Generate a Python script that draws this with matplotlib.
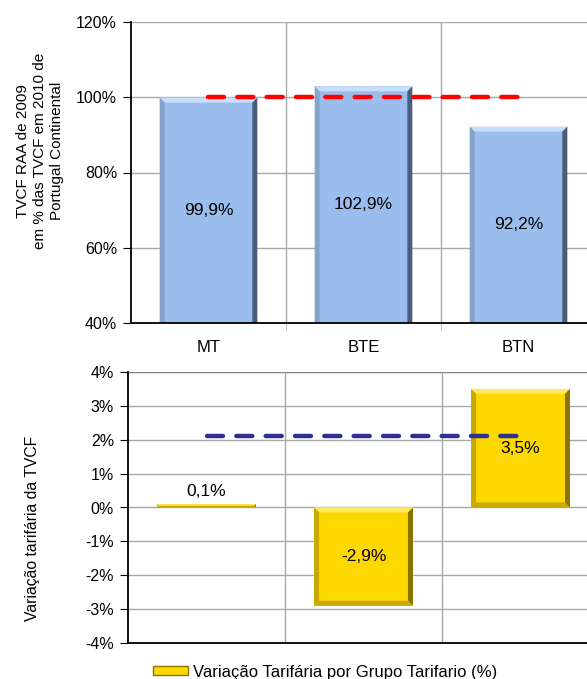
"""Tarifas TVCF: peso RAA face a Portugal Continental e variacao tarifaria por grupo"""

import matplotlib
matplotlib.use('Agg')
import matplotlib.pyplot as plt
from matplotlib.patches import Polygon, Patch
from matplotlib.ticker import FuncFormatter

plt.rcParams['font.family'] = ['Liberation Sans', 'DejaVu Sans']

grupos = ['MT', 'BTE', 'BTN']
peso_tvcf = [99.9, 102.9, 92.2]          # % das TVCF de Portugal Continental
ref_peso = [100.0, 100.0, 100.0]
variacao = [0.1, -2.9, 3.5]              # variacao tarifaria (%)
ref_variacao = [2.1, 2.1, 2.1]
rotulos_peso = ['99,9%', '102,9%', '92,2%']
rotulos_var = ['0,1%', '-2,9%', '3,5%']

azul = '#9bbdee'
amarelo = '#fcd700'
grid_c = '#a8a8a8'


def bevel(ax, x, width, y0, y1, light, dark, side, b=5, base=True):
    # bisel tipo Excel 3D: faixas em pixels sobre cada barra
    to_px = ax.transData.transform
    to_data = ax.transData.inverted().transform
    xa, ya = to_px((x - width / 2, min(y0, y1)))
    xb, yb = to_px((x + width / 2, max(y0, y1)))
    b = min(b, (yb - ya) / 2.0, (xb - xa) / 2.0)
    o = [(xa, ya), (xb, ya), (xb, yb), (xa, yb)]
    i = [(xa + b, ya + b), (xb - b, ya + b), (xb - b, yb - b), (xa + b, yb - b)]
    if not base:
        i[0] = (xa + b, ya)
        i[1] = (xb - b, ya)
    faces = [
        ([o[3], o[2], i[2], i[3]], light),   # topo
        ([o[1], o[2], i[2], i[1]], dark),    # direita
        ([o[0], o[3], i[3], i[0]], side),    # esquerda
    ]
    if base:
        faces.append(([o[0], o[1], i[1], i[0]], side))
    for pts, c in faces:
        ax.add_patch(Polygon(to_data(pts), closed=True, facecolor=c,
                             edgecolor='none', zorder=3))


fig = plt.figure(figsize=(5.87, 6.79), dpi=100)
ax1 = fig.add_axes([131 / 587, 1 - 323 / 679, 465 / 587, 301 / 679])
ax2 = fig.add_axes([128 / 587, 1 - 643 / 679, 471 / 587, 271 / 679])

pos = range(len(grupos))
pct = FuncFormatter(lambda v, p: '%d%%' % v)

# painel superior
ax1.set_xlim(-0.5, 2.5)
ax1.set_ylim(40, 120)
ax1.set_yticks(range(40, 121, 20))
ax1.yaxis.set_major_formatter(pct)
for v in range(60, 121, 20):
    ax1.axhline(v, color=grid_c, lw=1.0, zorder=1)
for v in (0.5, 1.5):
    ax1.axvline(v, color=grid_c, lw=1.0, zorder=1)
ax1.bar(pos, [h - 40 for h in peso_tvcf], bottom=40, width=0.63,
        color=azul, zorder=2)
for x, h in zip(pos, peso_tvcf):
    bevel(ax1, x, 0.63, 40, h, '#c9def8', '#4a5d7c', '#86a3cc', base=False)
ax1.plot(pos, ref_peso, color='#ff0000', lw=3.2, dashes=(3.6, 3.0),
         dash_capstyle='round', zorder=4)
for x, h, t in zip(pos, peso_tvcf, rotulos_peso):
    ax1.text(x, (40 + h) / 2, t, ha='center', va='center', fontsize=12.5, zorder=5)

ax1.set_xticks(list(pos))
ax1.set_xticklabels(grupos, fontsize=12)
ax1.set_xticks([0.5, 1.5], minor=True)
ax1.tick_params(axis='x', which='major', length=0, pad=12)
ax1.tick_params(axis='x', which='minor', length=5, color=grid_c)
ax1.tick_params(axis='y', length=6, labelsize=11.5, pad=4)
for s in ('top', 'right'):
    ax1.spines[s].set_visible(False)
for s in ('left', 'bottom'):
    ax1.spines[s].set_color('black')
    ax1.spines[s].set_linewidth(1.3)
ax1.spines['bottom'].set_zorder(6)

fig.text(40 / 587, 1 - 151 / 679,
         'TVCF RAA de 2009\nem % das TVCF em 2010 de\nPortugal Continental',
         rotation=90, ha='center', va='center', fontsize=11, linespacing=1.3)

# painel inferior
ax2.set_xlim(-0.5, 2.5)
ax2.set_ylim(-4, 4)
ax2.set_yticks(range(-4, 5))
ax2.yaxis.set_major_formatter(pct)
for v in range(-3, 4):
    ax2.axhline(v, color=grid_c, lw=1.0, zorder=1)
ax2.axhline(4, color='#7f7f7f', lw=1.0, zorder=1)
for v in (0.5, 1.5):
    ax2.axvline(v, color=grid_c, lw=1.0, zorder=1)
ax2.bar(pos, variacao, width=0.63, color=amarelo, zorder=2)
for x, h in zip(pos, variacao):
    bevel(ax2, x, 0.63, 0, h, '#ffe95c', '#8a7300', '#c9a900')
ax2.plot(pos, ref_variacao, color='#2e3192', lw=3.2, dashes=(3.6, 3.0),
         dash_capstyle='round', zorder=4)
for x, h, t in zip(pos, variacao, rotulos_var):
    if abs(h) < 0.5:
        ax2.annotate(t, (x, h), xytext=(0, 9), textcoords='offset points',
                     ha='center', va='center', fontsize=12.5, zorder=5)
    else:
        ax2.text(x, h / 2, t, ha='center', va='center', fontsize=12.5, zorder=5)

ax2.set_xticks([])
ax2.tick_params(axis='y', length=6, labelsize=11.5, pad=4)
for s in ('top', 'right'):
    ax2.spines[s].set_visible(False)
for s in ('left', 'bottom'):
    ax2.spines[s].set_color('black')
    ax2.spines[s].set_linewidth(1.3)

fig.text(33 / 587, 1 - 528 / 679, 'Variação tarifária da TVCF',
         rotation=90, ha='center', va='center', fontsize=11.3)

fig.legend(handles=[Patch(facecolor=amarelo, edgecolor='#8a7300', lw=1.0)],
           labels=['Variação Tarifária por Grupo Tarifario (%)'],
           loc='center', bbox_to_anchor=(325 / 587, 1 - 672 / 679),
           frameon=False, fontsize=12, handlelength=2.1, handleheight=0.5,
           handletextpad=0.3, borderaxespad=0, borderpad=0)

fig.savefig('out.png', dpi=100)
plt.close(fig)
